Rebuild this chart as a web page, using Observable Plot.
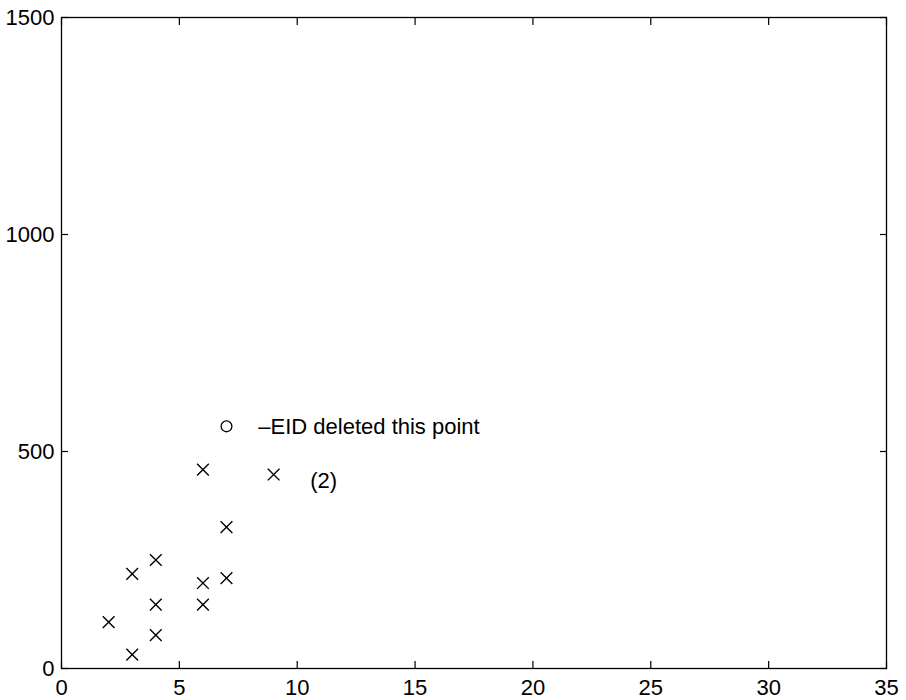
<!DOCTYPE html>
<html>
<head>
<meta charset="utf-8">
<script src="https://cdn.jsdelivr.net/npm/d3@7"></script>
<script src="https://cdn.jsdelivr.net/npm/@observablehq/plot@0.6"></script>
<style>
  html, body { margin: 0; padding: 0; background: #fff; }
  #chart { width: 906px; height: 700px; }
</style>
</head>
<body>
<div id="chart"></div>
<script>
// Crosses (x marks)
const crossX = [2, 3, 3, 4, 4, 4, 6, 6, 6, 7, 7, 9];
const crossY = [107, 32, 218, 250, 147, 77, 458, 197, 147, 326, 208, 447];

// Deleted point (circle)
const deletedX = [7];
const deletedY = [558];

// Annotations
const labelText = ["\u2013EID deleted this point", "(2)"];
const labelX = [8.35, 10.55];
const labelY = [557, 433];

// Tick values
const xTicks = [0, 5, 10, 15, 20, 25, 30, 35];
const yTicks = [0, 500, 1000, 1500];

const crosses = crossX.map((x, i) => ({x, y: crossY[i]}));
const deleted = deletedX.map((x, i) => ({x, y: deletedY[i]}));
const labels = labelText.map((t, i) => ({text: t, x: labelX[i], y: labelY[i]}));

const blank = () => "";
const fmt = d3.format("d");
const FS = 22;

const chart = Plot.plot({
  width: 906,
  height: 700,
  marginLeft: 61,
  marginRight: 20,
  marginTop: 17,
  marginBottom: 32,
  x: {domain: [0, 35]},
  y: {domain: [0, 1500]},
  style: {
    fontFamily: "'Liberation Sans', Arial, Helvetica, sans-serif",
    fontSize: FS + "px",
    background: "white",
    color: "black",
    overflow: "visible"
  },
  marks: [
    Plot.frame({stroke: "black", strokeWidth: 1.3}),
    Plot.axisX({anchor: "bottom", ticks: xTicks, tickSize: -7, tickFormat: blank, label: null, strokeWidth: 1.2}),
    Plot.axisX({anchor: "top", ticks: xTicks, tickSize: -7, tickFormat: blank, label: null, strokeWidth: 1.2}),
    Plot.axisX({anchor: "bottom", ticks: xTicks, tickSize: 0, tickPadding: 11, label: null, tickFormat: fmt, fontSize: FS}),
    Plot.axisY({anchor: "left", ticks: yTicks, tickSize: -7, tickFormat: blank, label: null, strokeWidth: 1.2}),
    Plot.axisY({anchor: "right", ticks: yTicks, tickSize: -7, tickFormat: blank, label: null, strokeWidth: 1.2}),
    Plot.axisY({anchor: "left", ticks: yTicks, tickSize: 0, tickPadding: 7, label: null, tickFormat: fmt, fontSize: FS}),
    Plot.dot(crosses, {x: "x", y: "y", symbol: "times", r: 5.4, stroke: "black", strokeWidth: 1.4}),
    Plot.dot(deleted, {x: "x", y: "y", symbol: "circle", r: 5.4, stroke: "black", strokeWidth: 1.3, fill: "none"}),
    Plot.text(labels, {x: "x", y: "y", text: "text", textAnchor: "start", fontSize: FS, fill: "black"})
  ]
});

document.getElementById("chart").appendChild(chart);
</script>
</body>
</html>
